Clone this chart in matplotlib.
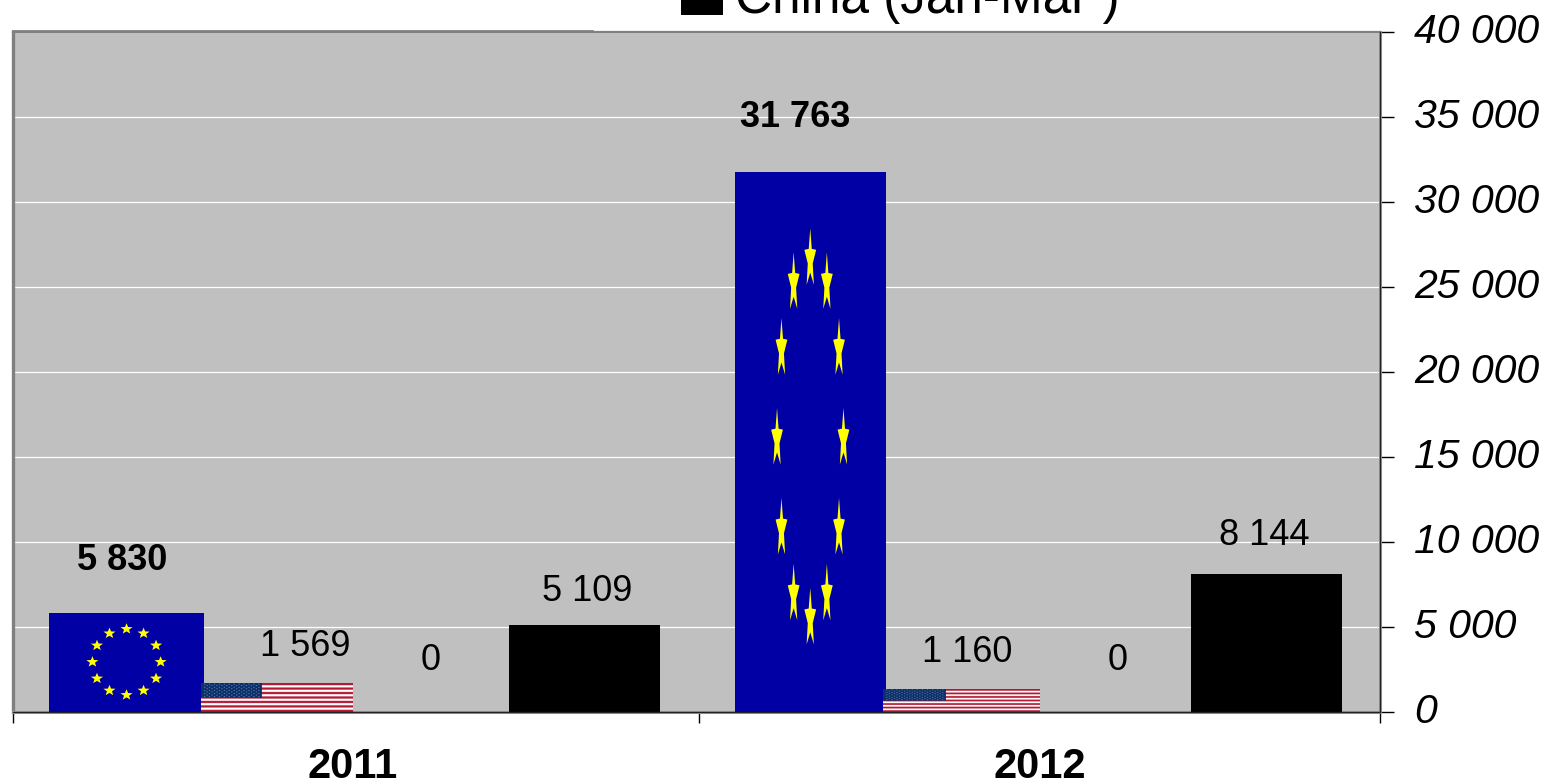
import numpy as np
import matplotlib
matplotlib.use("Agg")
import matplotlib.pyplot as plt
from matplotlib.patches import Rectangle
from matplotlib.lines import Line2D
from matplotlib.transforms import ScaledTranslation

plt.rcParams['font.family'] = ['Liberation Sans', 'DejaVu Sans']

# chart data
years = ['2011', '2012']
eu = [5830, 31763]
usa = [1569, 1160]
other = [0, 0]
china = [5109, 8144]
legend_label = 'China (Jan-Mar )'
y_ticks = [0, 5000, 10000, 15000, 20000, 25000, 30000, 35000, 40000]

W, H = 1556, 784
L, R, T, B = 13, 1380, 32, 712
px = 2 / (R - L)    # one pixel in x data units
py = 40000 / (B - T)    # one pixel in y data units


def spaced(v):
    return f"{v:,}".replace(",", " ")


def draw_eu_flag(x0, x1, h):
    # blue field with twelve stars, stretched along with the bar
    w = x1 - x0
    ax.add_patch(Rectangle((x0, 0), w, h, color='#0000A5', lw=0, zorder=3))
    for a in np.arange(12) * np.pi / 6:
        cx = x0 + w * (0.5 + 0.22 * np.sin(a))
        cy = h * (0.505 + 0.333 * np.cos(a))
        t = np.arange(10) * np.pi / 5
        r = np.where(np.arange(10) % 2 == 0, 1.0, 0.42)
        ax.fill(cx + 0.041 * w * r * np.sin(t), cy + 0.058 * h * r * np.cos(t),
                color='#FFFF00', lw=0, zorder=4)


def draw_us_flag(x0, x1, h):
    # stripes and canton built as a small picture, then put over the bar
    rows, cols = 130, 247
    img = np.ones((rows, cols, 3))
    for i in range(0, 13, 2):
        img[i * 10:i * 10 + 10] = (0.70, 0.10, 0.20)
    img[:66, :99] = (0.04, 0.19, 0.42)
    for j in range(9):
        for i in range(12 if j % 2 == 0 else 11):
            yy = 4 + j * 7
            xx = (5 if j % 2 == 0 else 9) + i * 8
            img[yy:yy + 2, xx:xx + 2] = (0.85, 0.85, 0.9)
    ax.imshow(img, extent=(x0, x1, 0, h), aspect='auto', zorder=5,
              interpolation='antialiased')


fig = plt.figure(figsize=(W / 100, H / 100), dpi=100)
ax = fig.add_axes([L / W, 1 - B / H, (R - L) / W, (B - T) / H])
ax.set_facecolor('#C0C0C0')

x = np.array([0.5026, 1.5])
step = 152 / 683.5
width = 151 / 683.5
# EU and US bars are only carriers, the flag pictures below are what shows
ax.bar(x - 1.5 * step, eu, width, color='none', zorder=3)
ax.bar(x - 0.5 * step, usa, width, color='none', zorder=3)
ax.bar(x + 0.5 * step, other, width, color='#FFFFFF', zorder=3)
ax.bar(x + 1.5 * step, china, width, color='black', zorder=3)

# flag pictures are slightly off the bar edges in the original
eu_pad = [(-4, 0), (0, 0)]
us_pad = [(-4, -3), (-4, 1)]
us_top = [2, 3]
for i in range(len(years)):
    c = x[i] - 1.5 * step
    draw_eu_flag(c - width / 2 + eu_pad[i][0] * px, c + width / 2 + eu_pad[i][1] * px, eu[i])
    c = x[i] - 0.5 * step
    draw_us_flag(c - width / 2 + us_pad[i][0] * px, c + width / 2 + us_pad[i][1] * px,
                 usa[i] + us_top[i] * py)

# value labels, offsets in pixels (dx, dy of the text centre over the bar top)
eu_off = [(-6, 52), (-15, 55)]
us_off = [(25, 39), (5, 40)]
other_off = [(-2, 51), (3, 51)]
china_off = [(3, 34), (-2, 38)]
for i in range(len(years)):
    for vals, k, off, wt in [(eu, -1.5, eu_off, 'bold'), (usa, -0.5, us_off, 'normal'),
                             (other, 0.5, other_off, 'normal'), (china, 1.5, china_off, 'normal')]:
        ax.annotate(spaced(vals[i]), (x[i] + k * step, vals[i]),
                    xytext=(off[i][0] * 0.72, off[i][1] * 0.72), textcoords='offset points',
                    ha='center', va='center', fontsize=26, fontweight=wt, zorder=6)

ax.set_xlim(0, 2)
ax.set_ylim(0, 40000)
ax.grid(axis='y', color='white', lw=0.9, zorder=1)
ax.set_axisbelow(True)

ax.yaxis.tick_right()
ax.set_yticks(y_ticks)
ax.set_yticklabels([spaced(v) for v in y_ticks], fontsize=29.5, style='italic')
ax.tick_params(axis='y', length=10, width=1, color='black', pad=14.5)
shift_up = ScaledTranslation(0, 4 / 72 * 0.72, fig.dpi_scale_trans)
for lab in ax.get_yticklabels():
    lab.set_transform(lab.get_transform() + shift_up)

ax.set_xticks([0, 1.0037, 2])
ax.set_xticklabels([])
ax.tick_params(axis='x', which='major', length=8, width=1, color='black')
ax.set_xticks([0.4974, 1.5026], minor=True)
ax.set_xticklabels(years, minor=True, fontsize=30, fontweight='bold')
ax.tick_params(axis='x', which='minor', length=0, pad=25)

ax.spines['left'].set(color='#808080', lw=2.4)
ax.spines['top'].set(color='#808080', lw=1.6)
ax.spines['bottom'].set(color='#A0A0A0', lw=2.2)
ax.spines['right'].set(color='#A0A0A0', lw=2.2)
ax.axvline(2, color='#222222', lw=1, clip_on=False, zorder=7)
ax.axhline(0, color='#222222', lw=1, clip_on=False, zorder=7)

# stray piece of border above the left half of the plot
fig.add_artist(Line2D([L / W, 592 / W], [1 - 31.3 / H, 1 - 31.3 / H], color='#808080', lw=2))

# legend is cut off by the top of the picture, only the last entry shows
fig.add_artist(Rectangle((681 / W, 1 - 15 / H), 42 / W, 30 / H, color='black', lw=0,
                         transform=fig.transFigure))
fig.text(735 / W, 1 - 12.5 / H, legend_label, fontsize=37, ha='left', va='baseline')

fig.savefig('out.png', dpi=100)
